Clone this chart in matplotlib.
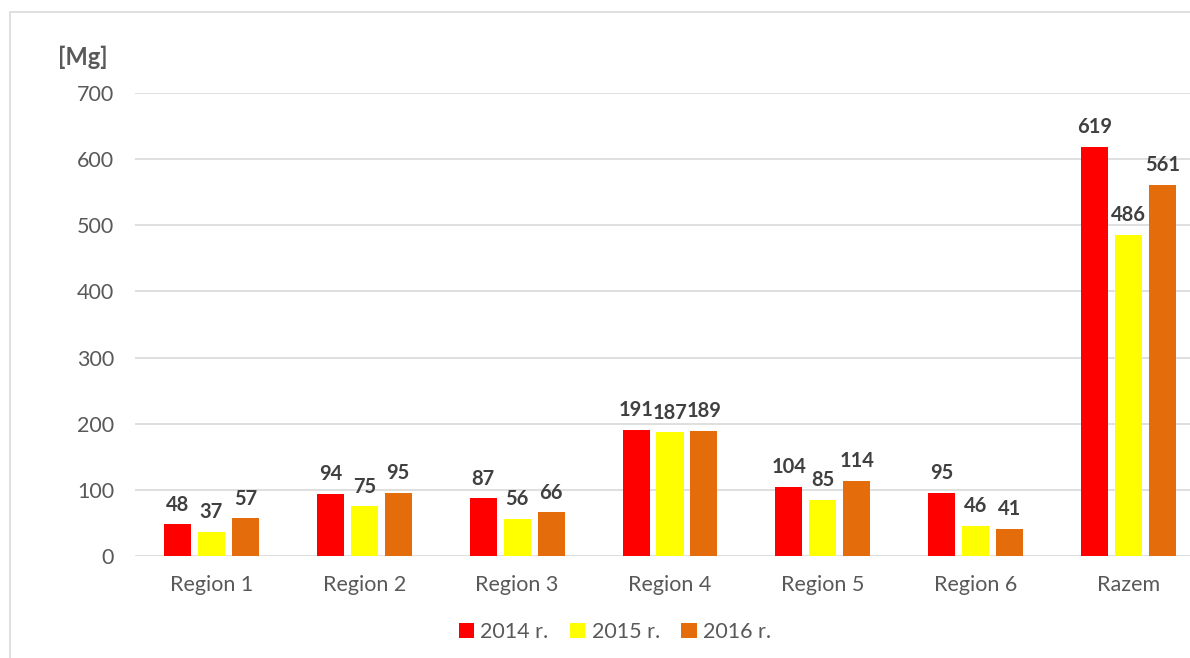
import matplotlib.pyplot as plt
import numpy as np
from matplotlib.patches import Rectangle

plt.rcParams['font.family'] = ['Lato', 'DejaVu Sans']

categories = ['Region 1', 'Region 2', 'Region 3', 'Region 4', 'Region 5', 'Region 6', 'Razem']
series_names = ['2014 r.', '2015 r.', '2016 r.']
v2014 = [48, 94, 87, 191, 104, 95, 619]
v2015 = [37, 75, 56, 187, 85, 46, 486]
v2016 = [57, 95, 66, 189, 114, 41, 561]
colors = ['#FF0000', '#FFFF00', '#E46C0A']

fig = plt.figure(figsize=(11.9, 6.58), dpi=100)
ax = fig.add_axes([135 / 1190, 102 / 658, 1070 / 1190, 463 / 658])

x = np.arange(len(categories))
w = 0.177
pitch = 0.222
for i, (vals, name, c) in enumerate(zip([v2014, v2015, v2016], series_names, colors)):
    pos = x + (i - 1) * pitch
    ax.bar(pos, vals, width=w, color=c, label=name, zorder=3)
    for p, v in zip(pos, vals):
        ax.annotate(str(v), (p, v), xytext=(0, 7), textcoords='offset points',
                    ha='center', va='bottom', fontsize=14.5, fontweight='bold', color='#404040')

ax.set_xlim(-0.5, len(categories) - 0.5)
ax.set_ylim(0, 700)
ax.set_yticks(range(0, 701, 100))
ax.set_xticks(x)
ax.set_xticklabels(categories)
ax.grid(axis='y', color='#d9d9d9', linewidth=1.2, zorder=0)
for s in ax.spines.values():
    s.set_visible(False)
ax.tick_params(axis='both', length=0, labelsize=15.5, labelcolor='#595959')
ax.tick_params(axis='y', pad=15)
ax.tick_params(axis='x', pad=14)

fig.text(83 / 1190, 1 - 57 / 658, '[Mg]', ha='center', va='center',
         fontsize=17, fontweight='bold', color='#595959')

fig.legend(loc='center', bbox_to_anchor=(615 / 1190, 1 - 632 / 658), ncol=3, frameon=False,
           fontsize=15.5, labelcolor='#595959', handlelength=0.7, handleheight=0.7,
           handletextpad=0.3, columnspacing=1.0)

fig.patches.append(Rectangle((10 / 1190, -0.1), 1.2, 1 - 12 / 658 + 0.1, transform=fig.transFigure,
                             fill=False, edgecolor='#d9d9d9', linewidth=1.2))

fig.savefig('out.png', dpi=100)
